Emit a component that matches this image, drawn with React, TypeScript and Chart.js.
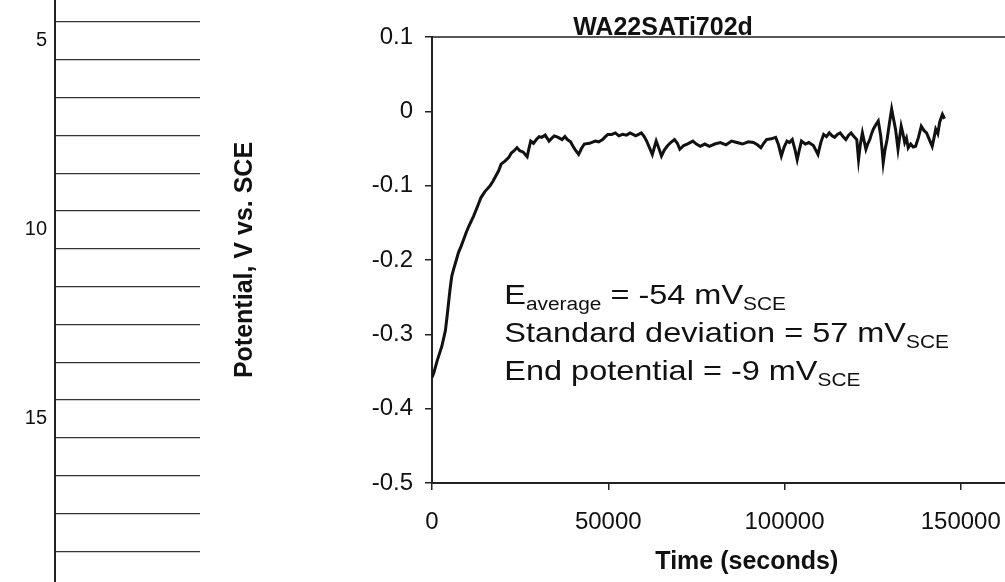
import React, { useEffect, useRef } from "react";
import { Chart, registerables } from "chart.js";

Chart.register(...registerables);

const FONT = "'Liberation Sans', Arial, Helvetica, sans-serif";
const INK = "#111111";

// ---------- main chart data ----------
const chartTitle = "WA22SATi702d";
const yAxisTitle = "Potential, V vs. SCE";
const xAxisTitle = "Time (seconds)";

const timeSec = [
  0, 500, 1500, 2800, 3800, 4300, 5100, 5600, 6100, 6900, 7500, 8300, 9000, 9700, 10400, 11200, 11800, 12900,
  13900, 15000, 16500, 17300, 18100, 18900, 19600, 20700, 21800, 22500, 23300, 24100, 24900, 25900, 27000,
  27500, 28000, 28800, 29600, 30400, 31100, 32100, 33200, 34000, 34700, 35800, 36900, 37700, 38400, 39300,
  40000, 40800, 41600, 42400, 43200, 44700, 46300, 47300, 48400, 49200, 49900, 51000, 52000, 53000, 54100,
  55200, 56200, 57000, 57800, 58600, 59400, 60200, 60900, 61700, 62500, 63600, 64300, 65100, 65900, 66700,
  67700, 68800, 69600, 70300, 71400, 72400, 73200, 74000, 75000, 76100, 77400, 78700, 80200, 81800, 83400,
  85000, 86500, 88100, 89700, 91200, 92300, 93300, 94100, 94900, 96200, 97500, 98300, 99100, 99900, 100700,
  101400, 102200, 102900, 103600, 104200, 104800, 105900, 106900, 108200, 109500, 110300, 111100, 111900,
  112700, 113500, 114200, 115000, 115800, 116600, 117400, 118200, 118900, 119700, 120500, 121000, 121500,
  122100, 122600, 123100, 123600, 124200, 124700, 125200, 125900, 126600, 127300, 127700, 128000, 128500,
  129100, 129800, 130400, 131000, 131500, 132200, 133100, 133600, 134100, 134600, 135100, 135800, 136500,
  137200, 138000, 138800, 139600, 140300, 141100, 141900, 142400, 142900, 143500, 144000, 144500, 144800,
  145400,
];

const potentialV = [
  -0.358, -0.352, -0.335, -0.316, -0.295, -0.275, -0.24, -0.222, -0.213, -0.2, -0.19, -0.181, -0.172, -0.163,
  -0.155, -0.147, -0.141, -0.128, -0.116, -0.108, -0.1, -0.094, -0.087, -0.08, -0.071, -0.067, -0.062, -0.056,
  -0.053, -0.049, -0.053, -0.055, -0.061, -0.05, -0.04, -0.043, -0.038, -0.034, -0.035, -0.032, -0.04, -0.036,
  -0.033, -0.035, -0.038, -0.034, -0.038, -0.041, -0.047, -0.053, -0.058, -0.05, -0.044, -0.043, -0.04, -0.041,
  -0.038, -0.034, -0.031, -0.031, -0.029, -0.033, -0.031, -0.032, -0.029, -0.031, -0.033, -0.031, -0.029,
  -0.034, -0.04, -0.049, -0.058, -0.04, -0.049, -0.06, -0.052, -0.047, -0.042, -0.038, -0.043, -0.051, -0.046,
  -0.044, -0.042, -0.04, -0.044, -0.047, -0.044, -0.047, -0.044, -0.042, -0.045, -0.04, -0.042, -0.044, -0.041,
  -0.042, -0.045, -0.049, -0.043, -0.038, -0.037, -0.035, -0.045, -0.06, -0.048, -0.04, -0.042, -0.038, -0.05,
  -0.065, -0.052, -0.04, -0.044, -0.042, -0.046, -0.058, -0.042, -0.031, -0.034, -0.029, -0.033, -0.035,
  -0.031, -0.029, -0.034, -0.038, -0.032, -0.029, -0.034, -0.038, -0.065, -0.045, -0.029, -0.04, -0.051,
  -0.044, -0.038, -0.03, -0.024, -0.018, -0.013, -0.033, -0.052, -0.069, -0.052, -0.038, -0.015, 0.003,
  -0.012, -0.024, -0.051, -0.02, -0.03, -0.042, -0.036, -0.049, -0.044, -0.048, -0.047, -0.035, -0.02,
  -0.026, -0.029, -0.038, -0.047, -0.036, -0.024, -0.03, -0.015, -0.008, -0.004, -0.01,
];

const xTickValues = [0, 50000, 100000, 150000, 200000];
const xTickLabels = ["0", "50000", "100000", "150000", "200000"];
const yTickValues = [-0.5, -0.4, -0.3, -0.2, -0.1, 0, 0.1];
const yTickLabels = ["-0.5", "-0.4", "-0.3", "-0.2", "-0.1", "0", "0.1"];

// statistics text box (anchored in data coordinates)
const statsLines = [
  [["E", false], ["average", true], [" = -54 mV", false], ["SCE", true]],
  [["Standard deviation = 57 mV", false], ["SCE", true]],
  [["End potential = -9 mV", false], ["SCE", true]],
] as [string, boolean][][];
const statsAnchorTime = 20500;
const statsBaselineValues = [-0.259, -0.31, -0.361];
const xTitleCenterTime = 89300;

// ---------- neighbouring (cut-off) chart on the left ----------
const leftRows = [4, 5, 6, 7, 8, 9, 10, 11, 12, 13, 14, 15, 16, 17, 18, 19];
const leftRowLabels = [5, 10, 15];
const leftRange = [3.918, 19.315];

const framePlugin = {
  id: "frame",
  afterDatasetsDraw(chart: any) {
    const { ctx, chartArea } = chart;
    ctx.save();
    ctx.strokeStyle = "#222";
    ctx.lineWidth = 1.6;
    ctx.beginPath();
    ctx.moveTo(chartArea.left, chartArea.top);
    ctx.lineTo(chartArea.right, chartArea.top);
    ctx.lineTo(chartArea.right, chartArea.bottom);
    ctx.stroke();
    ctx.restore();
  },
};

const textPlugin = {
  id: "texts",
  afterDraw(chart: any) {
    const { ctx, chartArea } = chart;
    const xs = chart.scales.x;
    const ys = chart.scales.y;
    ctx.save();
    ctx.fillStyle = INK;
    // x axis title
    ctx.font = `bold 25px ${FONT}`;
    ctx.textAlign = "center";
    ctx.textBaseline = "middle";
    ctx.fillText(xAxisTitle, xs.getPixelForValue(xTitleCenterTime), chartArea.bottom + 79);
    // statistics
    ctx.textAlign = "left";
    ctx.textBaseline = "alphabetic";
    const x0 = xs.getPixelForValue(statsAnchorTime);
    statsLines.forEach((line, i) => {
      const yb = ys.getPixelForValue(statsBaselineValues[i]);
      ctx.save();
      ctx.translate(x0, yb);
      ctx.scale(1.16, 1);
      let cx = 0;
      line.forEach(([t, sub]) => {
        ctx.font = `${sub ? 18 : 28}px ${FONT}`;
        ctx.fillText(t, cx, sub ? 6 : 0);
        cx += ctx.measureText(t).width;
      });
      ctx.restore();
    });
    ctx.restore();
  },
};

export default function App() {
  const leftRef = useRef<HTMLCanvasElement>(null);
  const mainRef = useRef<HTMLCanvasElement>(null);

  useEffect(() => {
    const left = new Chart(leftRef.current as HTMLCanvasElement, {
      type: "line",
      data: { datasets: [] },
      options: {
        animation: false,
        responsive: false,
        events: [],
        layout: { padding: { left: 0, right: 30, top: 0, bottom: 0 } },
        plugins: { legend: { display: false }, tooltip: { enabled: false }, title: { display: false } },
        scales: {
          x: { type: "linear", display: false, min: 0, max: 1 },
          y: {
            type: "linear",
            reverse: true,
            min: leftRange[0],
            max: leftRange[1],
            afterBuildTicks: (s: any) => {
              const t: any[] = [];
              leftRows.forEach((r) => {
                t.push({ value: r });
                t.push({ value: r + 0.5 });
              });
              s.ticks = t;
            },
            afterFit: (s: any) => {
              s.width = 55;
              s.paddingTop = 0;
              s.paddingBottom = 0;
            },
            ticks: {
              autoSkip: false,
              padding: 8,
              color: INK,
              font: { family: FONT, size: 20 },
              callback: (v: any) => (leftRowLabels.includes(v) ? String(v) : ""),
            },
            grid: {
              drawTicks: false,
              lineWidth: 1.3,
              color: (c: any) => (c.tick && c.tick.value % 1 === 0.5 ? "#333" : "rgba(0,0,0,0)"),
            },
            border: { display: true, color: "#222", width: 2 },
          },
        },
      },
    } as any);

    const main = new Chart(mainRef.current as HTMLCanvasElement, {
      type: "line",
      data: {
        datasets: [
          {
            data: timeSec.map((t, i) => ({ x: t, y: potentialV[i] })),
            borderColor: INK,
            borderWidth: 3,
            pointRadius: 0,
            tension: 0,
            fill: false,
          },
        ],
      },
      options: {
        animation: false,
        responsive: false,
        events: [],
        layout: { padding: { left: 0, right: 63, top: 0, bottom: 0 } },
        plugins: {
          legend: { display: false },
          tooltip: { enabled: false },
          title: {
            display: true,
            text: chartTitle,
            color: INK,
            font: { family: FONT, size: 25, weight: "bold" },
            padding: { top: 13, bottom: -6 },
          },
        },
        scales: {
          x: {
            type: "linear",
            min: 0,
            max: 200000,
            afterBuildTicks: (s: any) => {
              s.ticks = xTickValues.map((v) => ({ value: v }));
            },
            afterFit: (s: any) => {
              s.height = 99;
            },
            ticks: {
              autoSkip: false,
              maxRotation: 0,
              padding: 18,
              color: INK,
              font: { family: FONT, size: 24 },
              callback: (_v: any, i: number) => xTickLabels[i],
            },
            grid: { drawOnChartArea: false, tickLength: 7, color: "#222", lineWidth: 1.5 },
            border: { display: true, color: "#222", width: 2 },
          },
          y: {
            type: "linear",
            min: -0.5,
            max: 0.1,
            afterBuildTicks: (s: any) => {
              s.ticks = yTickValues.map((v) => ({ value: v }));
            },
            afterFit: (s: any) => {
              s.width = 243;
            },
            ticks: {
              autoSkip: false,
              padding: 12,
              color: INK,
              font: { family: FONT, size: 24 },
              callback: (_v: any, i: number) => yTickLabels[i],
            },
            grid: { drawOnChartArea: false, tickLength: 7, color: "#222", lineWidth: 1.5 },
            border: { display: true, color: "#222", width: 2 },
            title: {
              display: true,
              text: yAxisTitle,
              color: INK,
              font: { family: FONT, size: 25, weight: "bold" },
              padding: { top: 41, bottom: 0 },
            },
          },
        },
      },
      plugins: [framePlugin, textPlugin],
    } as any);

    return () => {
      left.destroy();
      main.destroy();
    };
  }, []);

  return (
    <div
      style={{
        position: "absolute",
        left: 0,
        top: 0,
        width: 1005,
        height: 582,
        overflow: "hidden",
        background: "#ffffff",
      }}
    >
      <canvas
        ref={leftRef}
        width={230}
        height={582}
        style={{ position: "absolute", left: 0, top: 0, width: 230, height: 582 }}
      />
      <canvas
        ref={mainRef}
        width={1011}
        height={582}
        style={{ position: "absolute", left: 189, top: 0, width: 1011, height: 582 }}
      />
    </div>
  );
}
